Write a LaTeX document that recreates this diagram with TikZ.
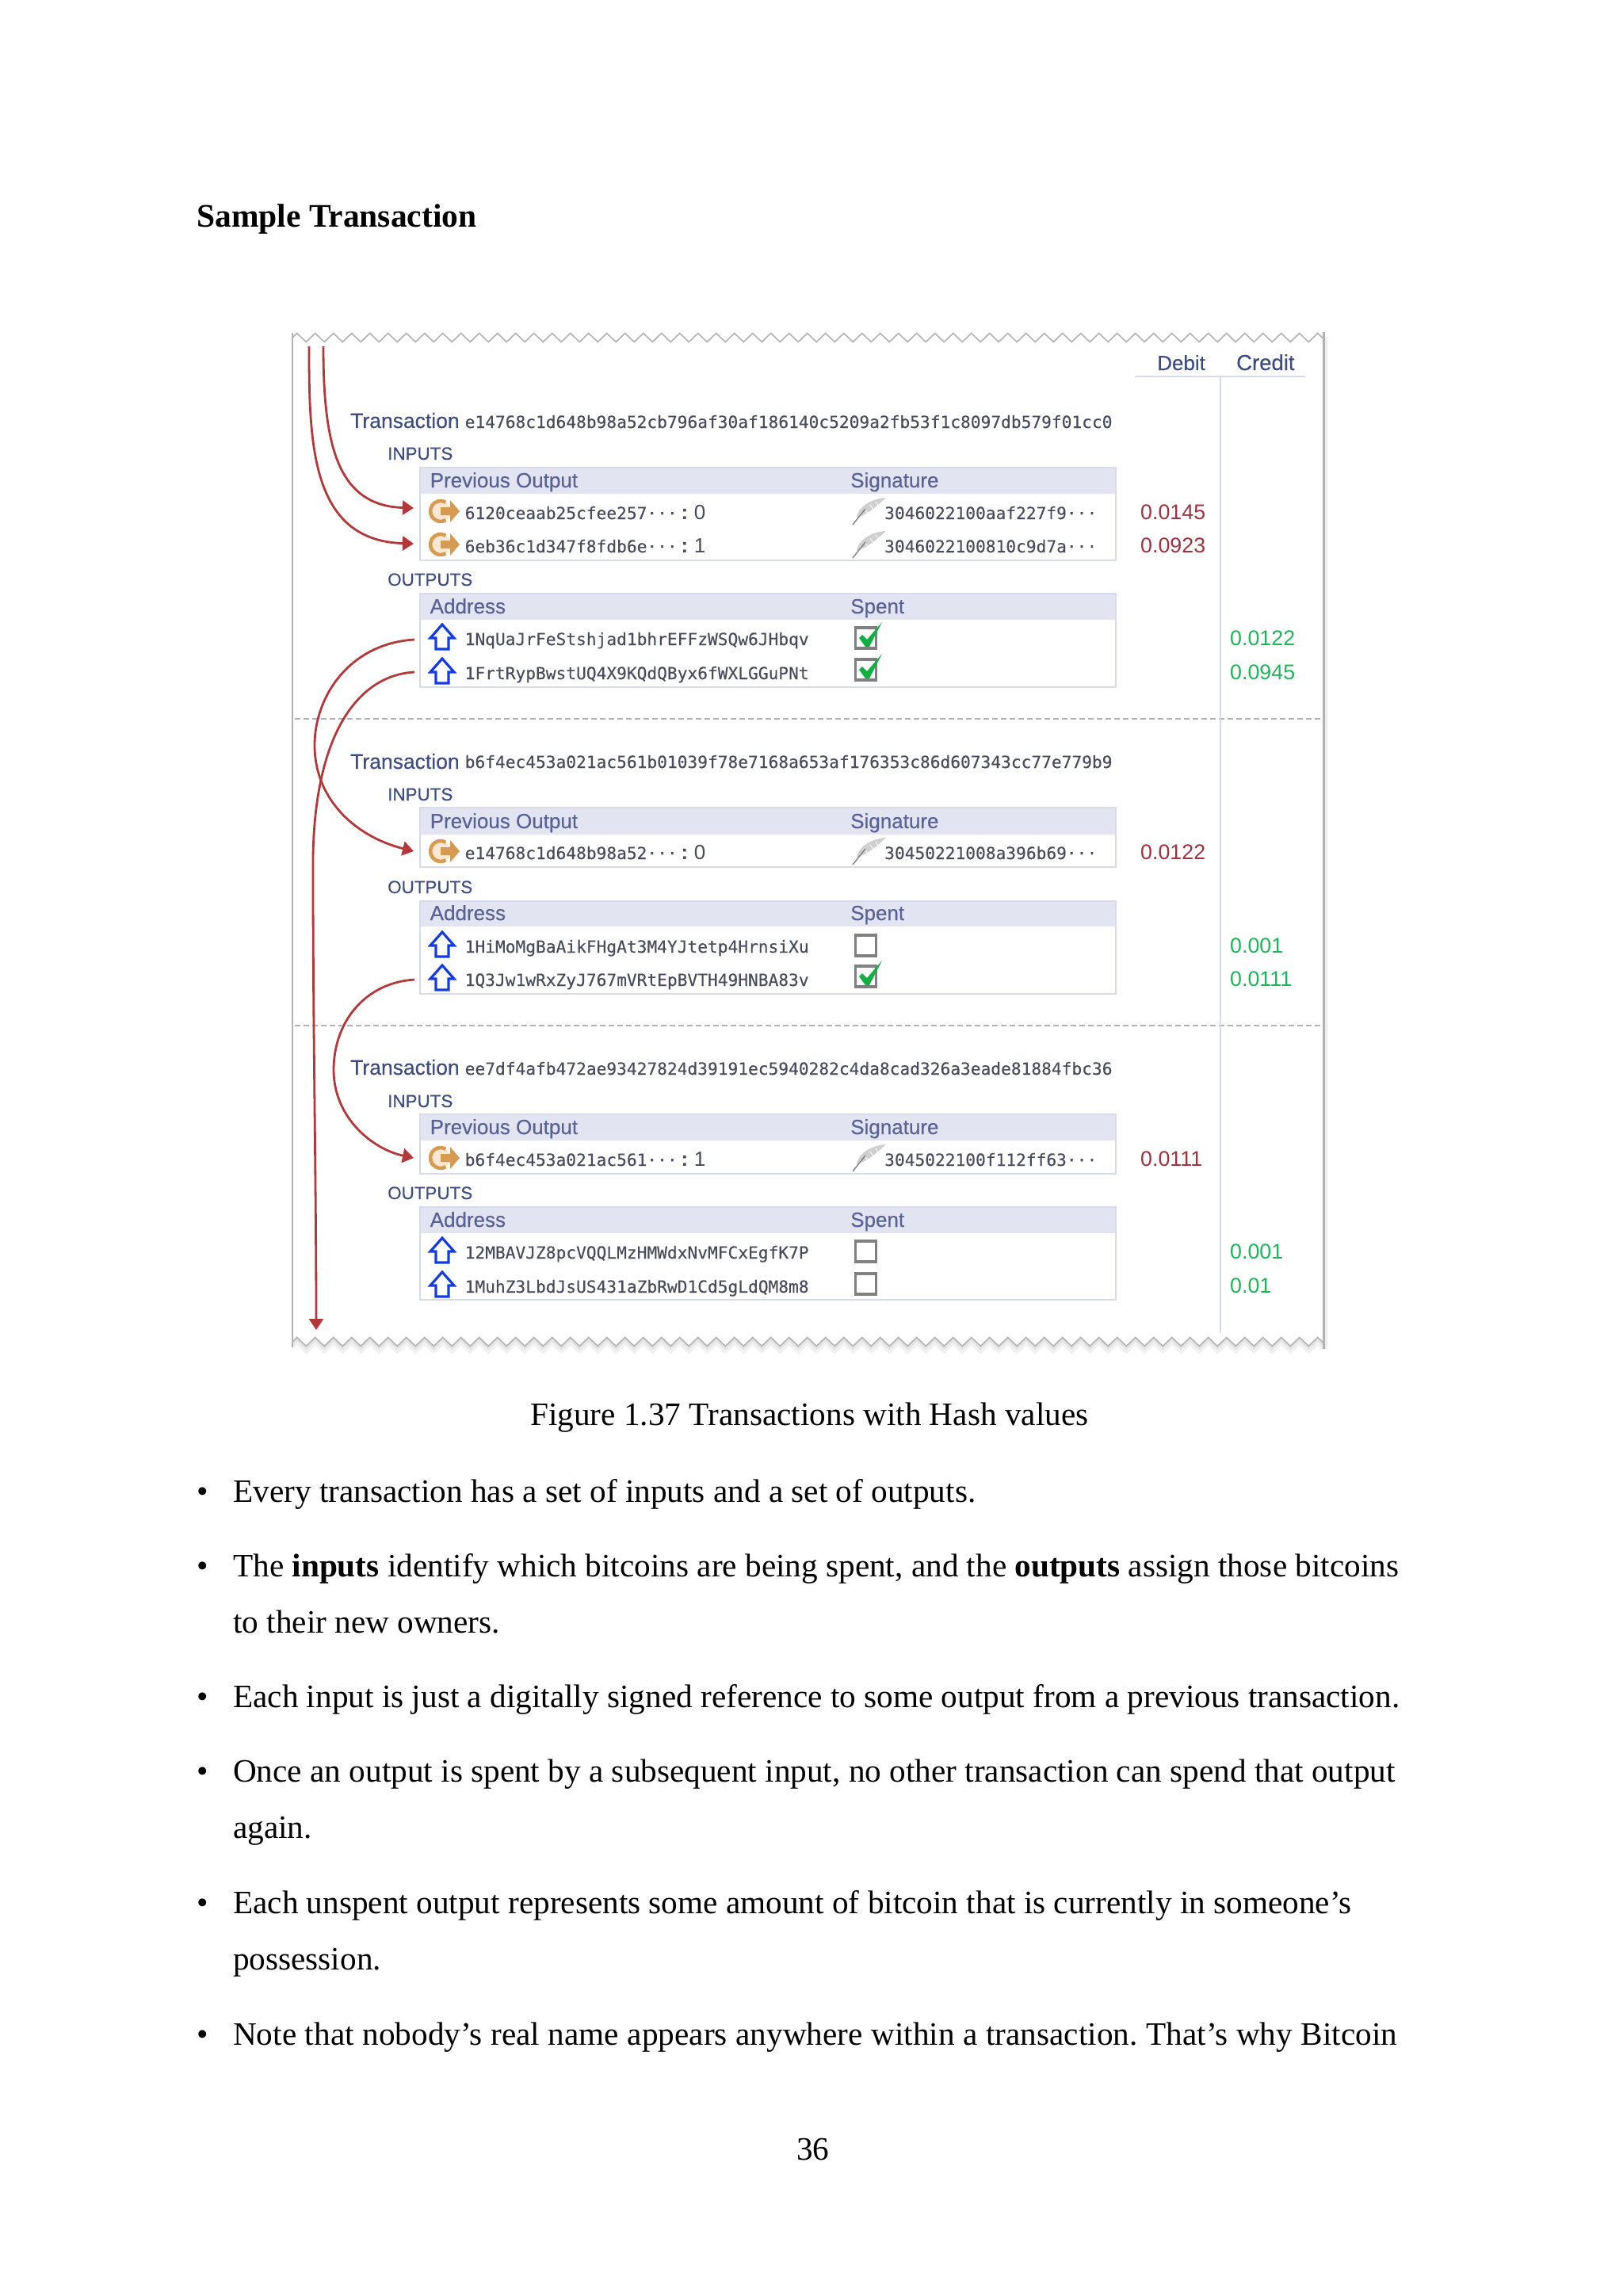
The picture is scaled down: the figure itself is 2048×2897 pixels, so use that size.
\documentclass[tikz,border=0pt]{standalone}
\usepackage{fontspec}
\setmainfont{Liberation Serif}
\setsansfont{Liberation Sans}
\setmonofont{DejaVu Sans Mono}
\newfontfamily\labelfont[FakeBold=0.35]{Liberation Sans}
\newfontfamily\hashfont[FakeBold=0.2]{DejaVu Sans Mono}
\usetikzlibrary{arrows.meta,decorations.pathmorphing}
\definecolor{txblue}{RGB}{62, 76, 132}
\definecolor{headblue}{RGB}{88, 98, 150}
\definecolor{hashgray}{RGB}{72, 76, 92}
\definecolor{headfill}{RGB}{226, 229, 241}
\definecolor{tableline}{RGB}{214, 218, 235}
\definecolor{debitred}{RGB}{160, 50, 62}
\definecolor{creditgreen}{RGB}{30, 180, 90}
\definecolor{linkred}{RGB}{178, 56, 58}
\definecolor{frameline}{RGB}{178, 178, 178}
\definecolor{upblue}{RGB}{20, 60, 230}
\definecolor{coinorange}{RGB}{214, 154, 80}
\definecolor{coinpale}{RGB}{250, 232, 212}
\definecolor{tickgreen}{RGB}{16, 176, 64}
\tikzset{
  pagetext/.style={anchor=base west, inner sep=0, font=\fontsize{41.25}{41.25}\selectfont\frenchspacing},
  txtitle/.style={anchor=base west, inner sep=0, text=txblue, font=\labelfont\fontsize{26.5}{26.5}\selectfont},
  sectitle/.style={anchor=base west, inner sep=0, text=txblue, font=\labelfont\fontsize{22.4}{22.4}\selectfont},
  headtext/.style={anchor=base west, inner sep=0, text=headblue, font=\labelfont\fontsize{26}{26}\selectfont},
  hashtext/.style={anchor=base west, inner sep=0, text=hashgray, font=\hashfont\fontsize{21.2}{21.2}\selectfont},
  idxtext/.style={anchor=base, inner sep=0, text=hashgray, font=\sffamily\fontsize{26}{26}\selectfont},
  debittext/.style={anchor=base west, inner sep=0, text=debitred, font=\sffamily\fontsize{26.8}{26.8}\selectfont},
  credittext/.style={anchor=base west, inner sep=0, text=creditgreen, font=\sffamily\fontsize{26.8}{26.8}\selectfont},
  linkarrow/.style={draw=linkred, line width=2.8pt, -{Triangle[length=14pt,width=18pt]}},
  sepline/.style={draw=frameline, line width=1.5pt, dash pattern=on 7pt off 4pt},
  zigline/.style={draw=frameline, line width=1.6pt, decorate, decoration={zigzag, segment length=23pt, amplitude=5.5pt}},
  coinicon/.pic={
    \fill[coinpale] (14,-10) circle[radius=13pt];
    \draw[coinorange, line width=4.5pt] (20.5,-21.3) arc[start angle=60, end angle=300, radius=13pt];
    \fill[coinorange] (14,-15) -- (26,-15) -- (26,-24) -- (38,-10) -- (26,4) -- (26,-5) -- (14,-5) -- cycle;
  },
  upicon/.pic={
    \draw[upblue, fill=white, line width=3.2pt, line join=miter] (16,-26) -- (31,-9) -- (24,-9) -- (24,5) -- (8,5) -- (8,-9) -- (1,-9) -- cycle;
  },
  feathericon/.pic={
    \fill[gray!38] (5,-2) .. controls (6,-14) and (22,-26) .. (42,-27) .. controls (34,-20) and (20,-6) .. (5,-2);
    \draw[white, line width=0.8pt] (9,-7) -- (13,-2) (15,-13) -- (19,-7) (22,-18) -- (26,-12) (29,-22) -- (32,-17);
    \draw[gray, line width=1.4pt] (0,7) -- (16,-13);
  },
  spentopen/.pic={
    \draw[gray, line width=3.2pt] (1.5,-22) rectangle (27.5,4);
  },
  spenttick/.pic={
    \draw[gray, line width=3.2pt] (1.5,-22) rectangle (27.5,4);
    \fill[tickgreen] (6,-9) -- (10,-13) -- (16,-7) -- (35,-29) -- (19,2) -- (14,2) -- cycle;
  }
}
% one table of a transaction: name, top, bottom of header, bottom, two titles
\newcommand{\txtable}[6]{
  \fill[headfill] (530,#2) rectangle (1408,#3);
  \draw[tableline, line width=1.6pt] (530,#2) rectangle (1408,#4);
  \node[headtext] (#1left) at (542.5,#3-8) {#5};
  \node[headtext] (#1right) at (1073,#3-8) {#6};
}
% input row: baseline, hash, index, signature, debit
\newcommand{\inputrow}[5]{
  \pic at (542,#1) {coinicon};
  \node[hashtext] (prev#1) at (586.5,#1) {#2···};
  \node[idxtext] (colon#1) at (864,#1) {\textbf{:}};
  \node[idxtext] (idx#1) at (883,#1) {#3};
  \pic at (1076,#1) {feathericon};
  \node[hashtext] (sig#1) at (1116,#1) {#4···};
  \node[debittext] (debit#1) at (1439,#1) {#5};
}
% output row: baseline, address, open or tick, box offset, credit
\newcommand{\outputrow}[5]{
  \pic at (542,#1) {upicon};
  \node[hashtext] (addr#1) at (586.5,#1) {#2};
  \pic at (1078,#1+#4) {spent#3};
  \node[credittext] (credit#1) at (1552,#1) {#5};
}
\begin{document}
\begin{tikzpicture}[x=1pt, y=-1pt]
  \useasboundingbox (0,0) rectangle (2048,2897);
  \fill[white] (0,0) rectangle (2048,2897);

  % Heading above the figure
  \node[pagetext, font=\bfseries\fontsize{41.5}{41.5}\selectfont] (heading) at (248,286) {Sample Transaction};

  % Frame of the figure
  \draw[zigline] (369,426) -- (1671,426);
  \draw[zigline, line width=6pt, draw=frameline!18] (369,1699) -- (1671,1699);
  \draw[zigline, line width=3pt, draw=frameline!35] (369,1696) -- (1671,1696);
  \draw[zigline] (369,1693) -- (1671,1693);
  \draw[frameline!25, line width=4pt] (1673,425) -- (1673,1702);
  \draw[frameline, line width=2pt] (369,420) -- (369,1700);
  \draw[frameline, line width=3pt] (1670,419) -- (1670,1702);
  \draw[sepline] (372,907) -- (1667,907);
  \draw[sepline] (372,1294) -- (1667,1294);

  % Debit and Credit columns
  \node[headtext, text=txblue] (debit) at (1460,467) {Debit};
  \node[headtext, text=txblue, font=\labelfont\fontsize{27.5}{27.5}\selectfont] (credit) at (1560,467) {Credit};
  \draw[tableline, line width=1.6pt] (1432,475) -- (1647,475);
  \draw[tableline, line width=1.5pt] (1540,475) -- (1540,1682);

  % Transaction 1
  \node[txtitle] (tx1) at (442,540) {Transaction};
  \node[hashtext] (hash1) at (586.5,540) {e14768c1d648b98a52cb796af30af186140c5209a2fb53f1c8097db579f01cc0};
  \node[sectitle] (inputs1) at (489,580) {INPUTS};
  \txtable{intab1}{590}{623}{707}{Previous Output}{Signature}
  \inputrow{655}{6120ceaab25cfee257}{0}{3046022100aaf227f9}{0.0145}
  \inputrow{697}{6eb36c1d347f8fdb6e}{1}{3046022100810c9d7a}{0.0923}
  \node[sectitle] (outputs1) at (489,739) {OUTPUTS};
  \txtable{outtab1}{749}{782}{867}{Address}{Spent}
  \outputrow{814}{1NqUaJrFeStshjad1bhrEFFzWSQw6JHbqv}{tick}{0}{0.0122}
  \outputrow{857}{1FrtRypBwstUQ4X9KQdQByx6fWXLGGuPNt}{tick}{-3}{0.0945}

  % Transaction 2
  \node[txtitle] (tx2) at (442,970) {Transaction};
  \node[hashtext] (hash2) at (586.5,969) {b6f4ec453a021ac561b01039f78e7168a653af176353c86d607343cc77e779b9};
  \node[sectitle] (inputs2) at (489,1010) {INPUTS};
  \txtable{intab2}{1019}{1053}{1094}{Previous Output}{Signature}
  \inputrow{1084}{e14768c1d648b98a52}{0}{30450221008a396b69}{0.0122}
  \node[sectitle] (outputs2) at (489,1127) {OUTPUTS};
  \txtable{outtab2}{1137}{1169}{1254}{Address}{Spent}
  \outputrow{1202}{1HiMoMgBaAikFHgAt3M4YJtetp4HrnsiXu}{open}{0}{0.001}
  \outputrow{1244}{1Q3Jw1wRxZyJ767mVRtEpBVTH49HNBA83v}{tick}{-3}{0.0111}

  % Transaction 3
  \node[txtitle] (tx3) at (442,1356) {Transaction};
  \node[hashtext] (hash3) at (586.5,1356) {ee7df4afb472ae93427824d39191ec5940282c4da8cad326a3eade81884fbc36};
  \node[sectitle] (inputs3) at (489,1397) {INPUTS};
  \txtable{intab3}{1406}{1439}{1481}{Previous Output}{Signature}
  \inputrow{1471}{b6f4ec453a021ac561}{1}{3045022100f112ff63}{0.0111}
  \node[sectitle] (outputs3) at (489,1513) {OUTPUTS};
  \txtable{outtab3}{1523}{1556}{1640}{Address}{Spent}
  \outputrow{1588}{12MBAVJZ8pcVQQLMzHMWdxNvMFCxEgfK7P}{open}{0}{0.001}
  \outputrow{1631}{1MuhZ3LbdJsUS431aZbRwD1Cd5gLdQM8m8}{open}{-2}{0.01}

  % Links between outputs and inputs
  \coordinate (topA) at (390,437);
  \coordinate (topB) at (408,437);
  \coordinate (inA) at (522,686);
  \coordinate (inB) at (522,641);
  \coordinate (outC) at (523,807);
  \coordinate (outD) at (523,848);
  \coordinate (inC) at (522,1074);
  \coordinate (endD) at (399,1678);
  \coordinate (outE) at (523,1236);
  \coordinate (inE) at (522,1461);
  \draw[linkarrow] (topA) .. controls (390,560) and (392,682) .. (inA);
  \draw[linkarrow] (topB) .. controls (408,560) and (425,638) .. (inB);
  \draw[linkarrow] (outC) .. controls (440,812) and (397,880) .. (397,940) .. controls (397,1010) and (450,1056) .. (inC);
  \draw[linkarrow] (outD) .. controls (450,852) and (393,930) .. (395,1100) .. controls (395,1300) and (399,1500) .. (endD);
  \draw[linkarrow] (outE) .. controls (460,1240) and (421,1290) .. (421,1350) .. controls (421,1410) and (470,1450) .. (inE);

  % Caption and text below the figure
  \node[pagetext] (caption) at (669,1798) {Figure 1.37 Transactions with Hash values};
  \node[pagetext] (bul1) at (248,1895) {•};
  \node[pagetext] (line1) at (294,1895) {Every transaction has a set of inputs and a set of outputs.};
  \node[pagetext] (bul2) at (248,1989) {•};
  \node[pagetext] (line2) at (294,1989) {The \textbf{inputs} identify which bitcoins are being spent, and the \textbf{outputs} assign those bitcoins};
  \node[pagetext] (line3) at (294,2060) {to their new owners.};
  \node[pagetext] (bul3) at (248,2154.5) {•};
  \node[pagetext] (line4) at (294,2154.5) {Each input is just a digitally signed reference to some output from a previous transaction.};
  \node[pagetext] (bul4) at (248,2248.5) {•};
  \node[pagetext] (line5) at (294,2248.5) {Once an output is spent by a subsequent input, no other transaction can spend that output};
  \node[pagetext] (line6) at (294,2319.5) {again.};
  \node[pagetext] (bul5) at (248,2414.5) {•};
  \node[pagetext] (line7) at (294,2414.5) {Each unspent output represents some amount of bitcoin that is currently in someone’s};
  \node[pagetext] (line8) at (294,2485.5) {possession.};
  \node[pagetext] (bul6) at (248,2580.5) {•};
  \node[pagetext] (line9) at (294,2580.5) {\makebox[1469pt][s]{Note that nobody’s real name appears anywhere within a transaction. That’s why Bitcoin}};
  \node[pagetext] (pagenum) at (1005,2725) {36};
\end{tikzpicture}
\end{document}
